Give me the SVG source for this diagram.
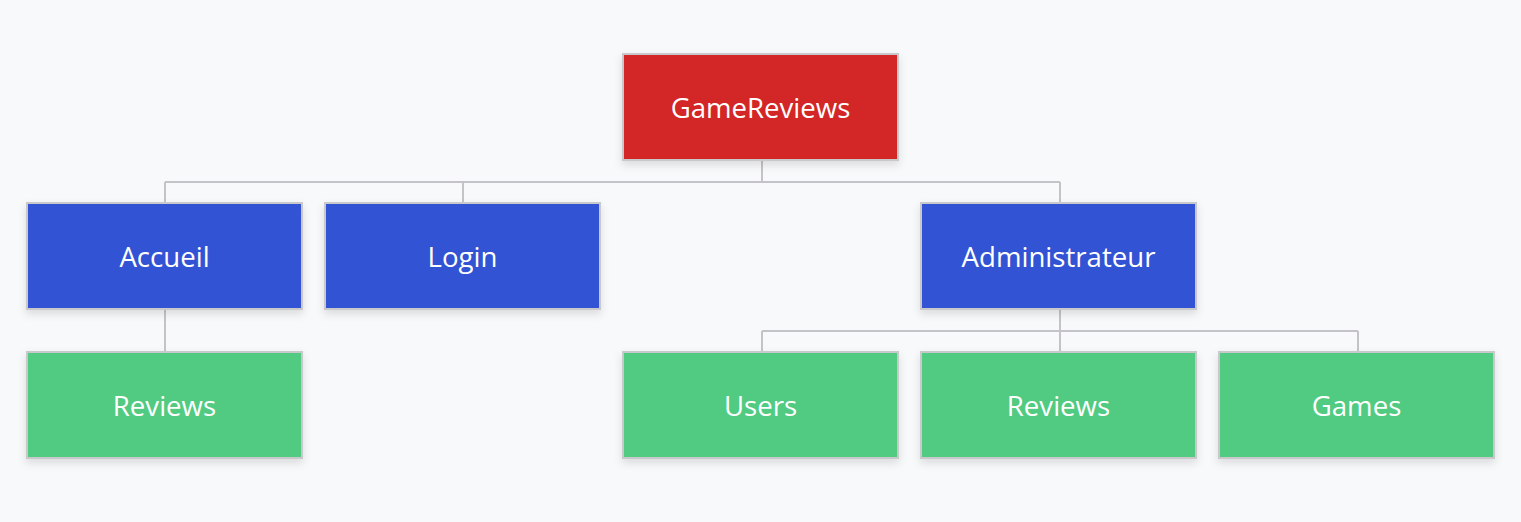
<svg xmlns="http://www.w3.org/2000/svg" width="1521" height="522" viewBox="0 0 1521 522">
<defs>
<filter id="sh" x="-10%" y="-10%" width="120%" height="130%">
<feDropShadow dx="0" dy="4" stdDeviation="4" flood-color="#000" flood-opacity="0.12"/>
</filter>
</defs>
<style>
.n rect{stroke:#c9c9cc;stroke-width:2;filter:url(#sh)}
.r rect{fill:#d32627}
.b rect{fill:#3352d3}
.g rect{fill:#51cb82}
.n text{font-family:"Open Sans","Noto Sans",sans-serif;font-size:27.6px;fill:#fff;text-anchor:middle;dominant-baseline:central}
.c path{fill:none;stroke:#c4c4c8;stroke-width:2}
</style>
<rect width="1521" height="522" fill="#f8f9fb"/>
<g class="c" id="connectors">
<path d="M762 160V182M165 182H1060M165 182V203M463 182V203M1060 182V203"/>
<path d="M165 309V352"/>
<path d="M1060 309V331M762 331H1358M762 331V352M1060 331V352M1358 331V352"/>
</g>
<g class="n r" id="n-gamereviews"><rect x="623" y="54" width="275" height="106"/><text x="760.5" y="107">GameReviews</text></g>
<g class="n b" id="n-accueil"><rect x="27" y="203" width="275" height="106"/><text x="164.5" y="256">Accueil</text></g>
<g class="n b" id="n-login"><rect x="325" y="203" width="275" height="106"/><text x="462.5" y="256">Login</text></g>
<g class="n b" id="n-admin"><rect x="921" y="203" width="275" height="106"/><text x="1058.5" y="256">Administrateur</text></g>
<g class="n g" id="n-reviews1"><rect x="27" y="352" width="275" height="106"/><text x="164.5" y="405">Reviews</text></g>
<g class="n g" id="n-users"><rect x="623" y="352" width="275" height="106"/><text x="760.5" y="405">Users</text></g>
<g class="n g" id="n-reviews2"><rect x="921" y="352" width="275" height="106"/><text x="1058.5" y="405">Reviews</text></g>
<g class="n g" id="n-games"><rect x="1219" y="352" width="275" height="106"/><text x="1356.5" y="405">Games</text></g>
</svg>
